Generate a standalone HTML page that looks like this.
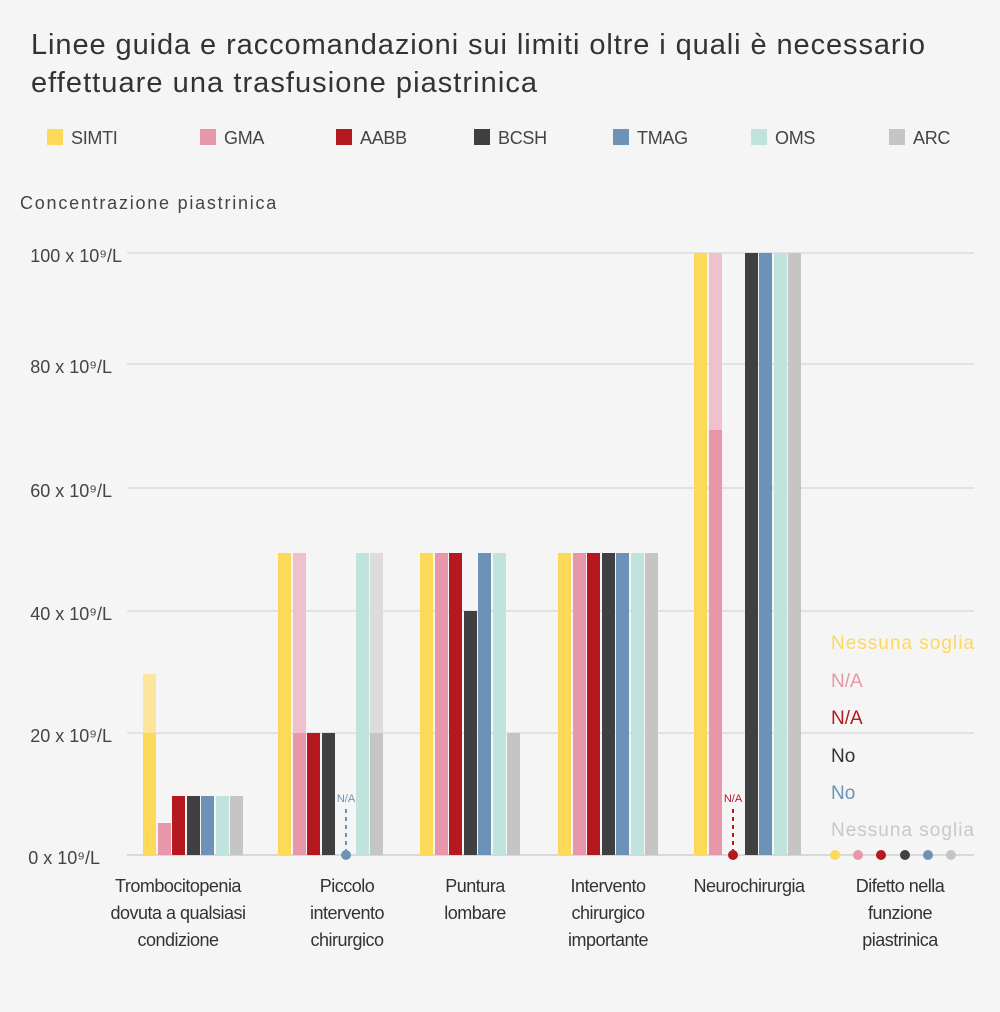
<!DOCTYPE html>
<html><head><meta charset="utf-8"><style>
html,body{margin:0;padding:0;background:#f5f5f5;}
svg{display:block;font-family:"Liberation Sans",sans-serif;}
</style></head><body>
<svg width="1000" height="1012" viewBox="0 0 1000 1012" xmlns="http://www.w3.org/2000/svg">
<rect width="1000" height="1012" fill="#f5f5f5"/>
<g fill="#333" font-size="29">
<text x="31" y="54" textLength="894" lengthAdjust="spacing">Linee guida e raccomandazioni sui limiti oltre i quali è necessario</text>
<text x="31" y="92" textLength="506" lengthAdjust="spacing">effettuare una trasfusione piastrinica</text>
</g>
<g font-size="18" fill="#444" letter-spacing="-0.3">
<rect x="47" y="129" width="16" height="16" fill="#fdd95a"/><text x="71" y="144">SIMTI</text>
<rect x="200" y="129" width="16" height="16" fill="#e896aa"/><text x="224" y="144">GMA</text>
<rect x="336" y="129" width="16" height="16" fill="#b5191f"/><text x="360" y="144">AABB</text>
<rect x="474" y="129" width="16" height="16" fill="#404042"/><text x="498" y="144">BCSH</text>
<rect x="613" y="129" width="16" height="16" fill="#6d92b8"/><text x="637" y="144">TMAG</text>
<rect x="751" y="129" width="16" height="16" fill="#c0e3dd"/><text x="775" y="144">OMS</text>
<rect x="889" y="129" width="16" height="16" fill="#c5c5c5"/><text x="913" y="144">ARC</text>
<text x="20" y="209" fill="#444" textLength="256" lengthAdjust="spacing">Concentrazione piastrinica</text>
</g>
<g stroke="#d6d6d6" stroke-width="1.3">
<line x1="127" y1="253" x2="974" y2="253"/>
<line x1="127" y1="364" x2="974" y2="364"/>
<line x1="127" y1="488" x2="974" y2="488"/>
<line x1="127" y1="611" x2="974" y2="611"/>
<line x1="127" y1="733" x2="974" y2="733"/>
<line x1="127" y1="855" x2="974" y2="855" stroke="#c8c8c8"/>
</g>
<g font-size="18" fill="#444" text-anchor="end">
<text x="122" y="262">100 x 10⁹/L</text>
<text x="112" y="373">80 x 10⁹/L</text>
<text x="112" y="497">60 x 10⁹/L</text>
<text x="112" y="620">40 x 10⁹/L</text>
<text x="112" y="742">20 x 10⁹/L</text>
<text x="100" y="864">0 x 10⁹/L</text>
</g>
<rect x="143" y="674" width="13" height="59" fill="#fde69c"/>
<rect x="143" y="733" width="13" height="122" fill="#fdd95a"/>
<rect x="158" y="823" width="13" height="32" fill="#e896aa"/>
<rect x="172" y="796" width="13" height="59" fill="#b5191f"/>
<rect x="187" y="796" width="13" height="59" fill="#404042"/>
<rect x="201" y="796" width="13" height="59" fill="#6d92b8"/>
<rect x="216" y="796" width="13" height="59" fill="#c0e3dd"/>
<rect x="230" y="796" width="13" height="59" fill="#c5c5c5"/>
<rect x="278" y="553" width="13" height="302" fill="#fdd95a"/>
<rect x="293" y="553" width="13" height="180" fill="#efc0cd"/>
<rect x="293" y="733" width="13" height="122" fill="#e896aa"/>
<rect x="307" y="733" width="13" height="122" fill="#b5191f"/>
<rect x="322" y="733" width="13" height="122" fill="#404042"/>
<line x1="346" y1="809" x2="346" y2="850" stroke="#6d92b8" stroke-width="2" stroke-dasharray="4,4"/>
<circle cx="346" cy="855" r="5" fill="#6d92b8"/>
<text x="346" y="802" font-size="11" fill="#6d92b8" text-anchor="middle">N/A</text>
<rect x="356" y="553" width="13" height="302" fill="#c0e3dd"/>
<rect x="370" y="553" width="13" height="180" fill="#dcdcdc"/>
<rect x="370" y="733" width="13" height="122" fill="#c5c5c5"/>
<rect x="420" y="553" width="13" height="302" fill="#fdd95a"/>
<rect x="435" y="553" width="13" height="302" fill="#e896aa"/>
<rect x="449" y="553" width="13" height="302" fill="#b5191f"/>
<rect x="464" y="611" width="13" height="244" fill="#404042"/>
<rect x="478" y="553" width="13" height="302" fill="#6d92b8"/>
<rect x="493" y="553" width="13" height="302" fill="#c0e3dd"/>
<rect x="507" y="733" width="13" height="122" fill="#c5c5c5"/>
<rect x="558" y="553" width="13" height="302" fill="#fdd95a"/>
<rect x="573" y="553" width="13" height="302" fill="#e896aa"/>
<rect x="587" y="553" width="13" height="302" fill="#b5191f"/>
<rect x="602" y="553" width="13" height="302" fill="#404042"/>
<rect x="616" y="553" width="13" height="302" fill="#6d92b8"/>
<rect x="631" y="553" width="13" height="302" fill="#c0e3dd"/>
<rect x="645" y="553" width="13" height="302" fill="#c5c5c5"/>
<rect x="694" y="253" width="13" height="602" fill="#fdd95a"/>
<rect x="709" y="253" width="13" height="177" fill="#efc0cd"/>
<rect x="709" y="430" width="13" height="425" fill="#e896aa"/>
<line x1="733" y1="809" x2="733" y2="850" stroke="#b5191f" stroke-width="2" stroke-dasharray="4,4"/>
<circle cx="733" cy="855" r="5" fill="#b5191f"/>
<text x="733" y="802" font-size="11" fill="#b5191f" text-anchor="middle">N/A</text>
<rect x="745" y="253" width="13" height="602" fill="#404042"/>
<rect x="759" y="253" width="13" height="602" fill="#6d92b8"/>
<rect x="774" y="253" width="13" height="602" fill="#c0e3dd"/>
<rect x="788" y="253" width="13" height="602" fill="#c5c5c5"/>
<g font-size="19">
<text x="831" y="649" fill="#fdd95a" textLength="143" lengthAdjust="spacing">Nessuna soglia</text>
<text x="831" y="687" fill="#e896aa">N/A</text>
<text x="831" y="724" fill="#b5191f">N/A</text>
<text x="831" y="762" fill="#333">No</text>
<text x="831" y="799" fill="#6d92b8">No</text>
<text x="831" y="836" fill="#c8c8c8" textLength="143" lengthAdjust="spacing">Nessuna soglia</text>
</g>
<circle cx="835" cy="855" r="5" fill="#fdd95a"/>
<circle cx="858" cy="855" r="5" fill="#e896aa"/>
<circle cx="881" cy="855" r="5" fill="#b5191f"/>
<circle cx="905" cy="855" r="5" fill="#404042"/>
<circle cx="928" cy="855" r="5" fill="#6d92b8"/>
<circle cx="951" cy="855" r="5" fill="#c5c5c5"/>
<g font-size="18" fill="#333" text-anchor="middle" letter-spacing="-0.5">
<text x="178" y="892">Trombocitopenia</text><text x="178" y="919">dovuta a qualsiasi</text><text x="178" y="946">condizione</text>
<text x="347" y="892">Piccolo</text><text x="347" y="919">intervento</text><text x="347" y="946">chirurgico</text>
<text x="475" y="892">Puntura</text><text x="475" y="919">lombare</text>
<text x="608" y="892">Intervento</text><text x="608" y="919">chirurgico</text><text x="608" y="946">importante</text>
<text x="749" y="892">Neurochirurgia</text>
<text x="900" y="892">Difetto nella</text><text x="900" y="919">funzione</text><text x="900" y="946">piastrinica</text>
</g>
</svg>
</body></html>
